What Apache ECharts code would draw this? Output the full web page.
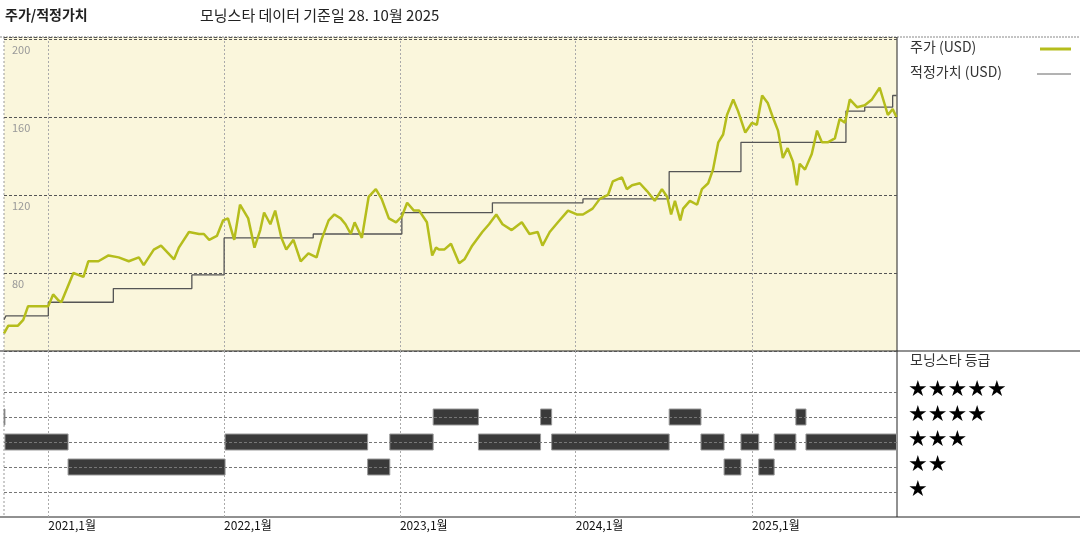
<!DOCTYPE html>
<html>
<head>
<meta charset="utf-8">
<script src="https://cdn.jsdelivr.net/npm/echarts@6/dist/echarts.min.js"></script>
<style>
body{margin:0;background:#fff}
#chart{width:1080px;height:540px}
</style>
</head>
<body>
<div id="chart"></div>
<script>
// price (USD)
var priceDates = ['2020-10-01','2020-10-10','2020-10-30','2020-11-10','2020-11-20','2020-12-11','2021-01-01','2021-01-11','2021-01-22','2021-01-28',
    '2021-02-12','2021-02-22','2021-03-15','2021-03-25','2021-04-15','2021-05-06','2021-05-27','2021-06-17','2021-07-08','2021-07-18',
    '2021-08-08','2021-08-23','2021-09-19','2021-09-29','2021-10-20','2021-11-10','2021-11-20','2021-12-01','2021-12-17','2021-12-30',
    '2022-01-09','2022-01-22','2022-02-03','2022-02-20','2022-03-05','2022-03-17','2022-03-25','2022-04-07','2022-04-17','2022-04-30',
    '2022-05-10','2022-05-25','2022-06-09','2022-06-25','2022-07-12','2022-07-22','2022-08-06','2022-08-18','2022-08-31','2022-09-10',
    '2022-09-21','2022-09-29','2022-10-14','2022-10-28','2022-11-12','2022-11-24','2022-12-09','2022-12-24','2023-01-05','2023-01-16',
    '2023-01-30','2023-02-10','2023-02-26','2023-03-09','2023-03-17','2023-03-23','2023-04-03','2023-04-17','2023-05-04','2023-05-15',
    '2023-05-31','2023-06-21','2023-07-05','2023-07-20','2023-08-02','2023-08-21','2023-09-11','2023-09-27','2023-10-14','2023-10-24',
    '2023-11-08','2023-11-25','2023-12-16','2024-01-03','2024-01-16','2024-02-05','2024-02-20','2024-03-08','2024-03-18','2024-04-06',
    '2024-04-16','2024-04-27','2024-05-13','2024-05-28','2024-06-13','2024-06-28','2024-07-09','2024-07-17','2024-07-25','2024-08-05',
    '2024-08-11','2024-08-25','2024-09-09','2024-09-19','2024-10-02','2024-10-12','2024-10-23','2024-11-02','2024-11-10','2024-11-23',
    '2024-12-03','2024-12-18','2025-01-01','2025-01-11','2025-01-22','2025-02-03','2025-02-13','2025-02-24','2025-03-06','2025-03-16',
    '2025-03-27','2025-04-04','2025-04-10','2025-04-21','2025-05-05','2025-05-16','2025-05-26','2025-06-07','2025-06-22','2025-07-02',
    '2025-07-13','2025-07-23','2025-08-07','2025-08-23','2025-09-07','2025-09-23','2025-10-04','2025-10-10','2025-10-20','2025-10-28']
var priceValues = [49,53,53,56,63,63,63,69,66,65,
    74,80,78,86,86,89,88,86,88,84,
    92,94,87,93,101,100,100,97,99,107,
    108,97,115,108,93,102,111,105,112,98,
    92,97,86,90,88,97,107,110,108,105,
    100,106,98,119,123,118,108,106,109,116,
    112,112,106,89,93,92,92,95,85,87,
    94,101,105,110,105,102,106,100,101,94,
    101,106,112,110,110,113,118,120,127,129,
    123,125,126,122,117,123,119,110,117,107,
    113,117,115,123,126,133,147,151,161,169,
    163,152,157,156,171,167,160,153,139,144,
    137,125,136,133,141,153,147,147,149,159,
    157,169,165,166,169,175,166,161,164,160]

// fair value (USD), value from each date on
var fairDates = ['2020-10-01','2020-10-05','2021-01-01','2021-05-16','2021-10-26','2022-01-01','2022-07-05','2023-01-05','2023-07-12','2024-01-16',
    '2024-07-13','2024-12-09','2025-07-15','2025-08-23','2025-10-20','2025-10-28']
var fairValues = [56,58,65,72,79,98,100,111,116,118,132,147,163,165,171,171]

// morningstar rating periods
var ratingStarts = ['2020-10-01','2020-10-03','2021-02-11','2022-01-03','2022-10-26','2022-12-11','2023-03-11','2023-06-13','2023-10-20','2023-11-12',
    '2024-07-13','2024-09-17','2024-11-04','2024-12-09','2025-01-15','2025-02-16','2025-04-02','2025-04-23']
var ratingEnds = ['2020-10-03','2021-02-11','2022-01-03','2022-10-26','2022-12-11','2023-03-11','2023-06-13','2023-10-20','2023-11-12','2024-07-13',
    '2024-09-17','2024-11-04','2024-12-09','2025-01-15','2025-02-16','2025-04-02','2025-04-23','2025-10-28']
var ratingStars = [4,3,2,3,2,3,4,3,4,3,4,3,2,3,2,3,4,3]

var xTicks = ['2021-01-01','2022-01-01','2023-01-01','2024-01-01','2025-01-01']
var xLabels = ['2020-10-01','2021-01-01','2022-01-01','2023-01-01','2024-01-01','2025-01-01']
var starLabels = ['★★★★★','★★★★','★★★','★★','★']

var FONT = '"Noto Sans CJK KR", sans-serif'
var xMin = '2020-10-01', xMax = '2025-10-29'

function toMs(s){ return new Date(s + 'T00:00:00').getTime() }

var priceData = []
for (var i=0; i<priceDates.length; i++){ priceData.push([toMs(priceDates[i]), priceValues[i]]) }
var fairData = []
for (var i=0; i<fairDates.length; i++){ fairData.push([toMs(fairDates[i]), fairValues[i]]) }
var ratingData = []
for (var i=0; i<ratingStarts.length; i++){ ratingData.push([toMs(ratingStarts[i]), toMs(ratingEnds[i]), ratingStars[i]]) }

var tickMs = xTicks.map(toMs)
var labelMs = xLabels.map(toMs)

var chart = echarts.init(document.getElementById('chart'))

var graphics = [
    {type:'text', left:5, top:8, style:{text:'주가/적정가치', font:'bold 14px ' + FONT, fill:'#222'}},
    {type:'text', left:200, top:8, style:{text:'모닝스타 데이터 기준일 28. 10월 2025', font:'15px ' + FONT, fill:'#222'}},
    {type:'line', shape:{x1:0, y1:37, x2:1080, y2:37}, style:{stroke:'#888', lineWidth:1, lineDash:[2,1]}},
    {type:'line', shape:{x1:0, y1:351, x2:1080, y2:351}, style:{stroke:'#222', lineWidth:1}},
    {type:'line', shape:{x1:0, y1:517, x2:1080, y2:517}, style:{stroke:'#222', lineWidth:1}},
    {type:'line', shape:{x1:897, y1:37, x2:897, y2:517}, style:{stroke:'#222', lineWidth:1}},
    {type:'line', shape:{x1:4, y1:37, x2:4, y2:517}, style:{stroke:'#999', lineWidth:1, lineDash:[2,2]}},
    {type:'text', left:910, top:40, style:{text:'주가 (USD)', font:'14px ' + FONT, fill:'#333'}},
    {type:'line', shape:{x1:1040, y1:49, x2:1071, y2:49}, style:{stroke:'#b5bd1c', lineWidth:3}},
    {type:'text', left:910, top:65, style:{text:'적정가치 (USD)', font:'14px ' + FONT, fill:'#333'}},
    {type:'line', shape:{x1:1037, y1:74, x2:1071, y2:74}, style:{stroke:'#666', lineWidth:1}},
    {type:'text', left:910, top:353, style:{text:'모닝스타 등급', font:'14px ' + FONT, fill:'#333'}}
]
for (var k=0; k<starLabels.length; k++){
    graphics.push({type:'text', left:908, top:379 + k*25, style:{text:starLabels[k], font:'22px "DejaVu Sans", sans-serif', fill:'#000'}})
}

var option = {
    animation:false,
    graphic:graphics,
    grid:[
        {left:4, right:183, top:37, height:314, show:true, backgroundColor:'#faf6dc', borderWidth:0},
        {left:4, right:183, top:351, height:166, show:false}
    ],
    xAxis:[
        {
            type:'value', gridIndex:0, min:toMs(xMin), max:toMs(xMax),
            axisLine:{show:false}, axisTick:{show:false, customValues:tickMs},
            axisLabel:{show:false, customValues:tickMs},
            splitLine:{show:true, lineStyle:{color:'#aaa', type:[2,2]}}
        },
        {
            type:'value', gridIndex:1, min:toMs(xMin), max:toMs(xMax),
            axisLine:{show:false}, axisTick:{show:false, customValues:tickMs},
            axisLabel:{
                customValues:labelMs, align:'left', color:'#111', fontSize:12, fontFamily:FONT, margin:2,
                formatter:function(v){ var d = new Date(v); return d.getFullYear() + ',' + (d.getMonth()+1) + '월' }
            },
            splitLine:{show:true, lineStyle:{color:'#aaa', type:[2,2]}}
        }
    ],
    yAxis:[
        {
            type:'value', gridIndex:0, min:40, max:201, interval:40,
            axisLine:{show:false}, axisTick:{show:false},
            axisLabel:{inside:true, color:'#999', fontSize:11, verticalAlign:'top', padding:[5,0,0,0], fontFamily:FONT,
                formatter:function(v){ return v === 40 ? '' : v }},
            splitLine:{show:true, lineStyle:{color:'#555', type:[3,2]}}
        },
        {
            type:'value', gridIndex:1, min:0, max:6.64,
            axisLine:{show:false}, axisTick:{show:false}, axisLabel:{show:false}, splitLine:{show:false}
        }
    ],
    series:[
        {
            name:'적정가치 (USD)', type:'line', xAxisIndex:0, yAxisIndex:0, step:'end', symbol:'none',
            lineStyle:{color:'#555', width:1.3}, data:fairData, z:3
        },
        {
            name:'주가 (USD)', type:'line', xAxisIndex:0, yAxisIndex:0, symbol:'none',
            lineStyle:{color:'#b5bd1c', width:2.5}, data:priceData, z:4
        },
        {
            type:'custom', xAxisIndex:1, yAxisIndex:1, data:ratingData,
            renderItem:function(params, api){
                var p0 = api.coord([api.value(0), api.value(2)])
                var p1 = api.coord([api.value(1), api.value(2)])
                return {type:'rect', shape:{x:p0[0], y:p0[1]-8, width:p1[0]-p0[0], height:16},
                    style:{fill:'#3a3a3a', stroke:'#999', lineWidth:1}}
            },
            markLine:{
                silent:true, symbol:'none', label:{show:false},
                lineStyle:{color:'#777', type:[3,2], width:1},
                data:[{yAxis:1},{yAxis:2},{yAxis:3},{yAxis:4},{yAxis:5}]
            },
            z:3
        }
    ]
}
chart.setOption(option)
</script>
</body>
</html>
